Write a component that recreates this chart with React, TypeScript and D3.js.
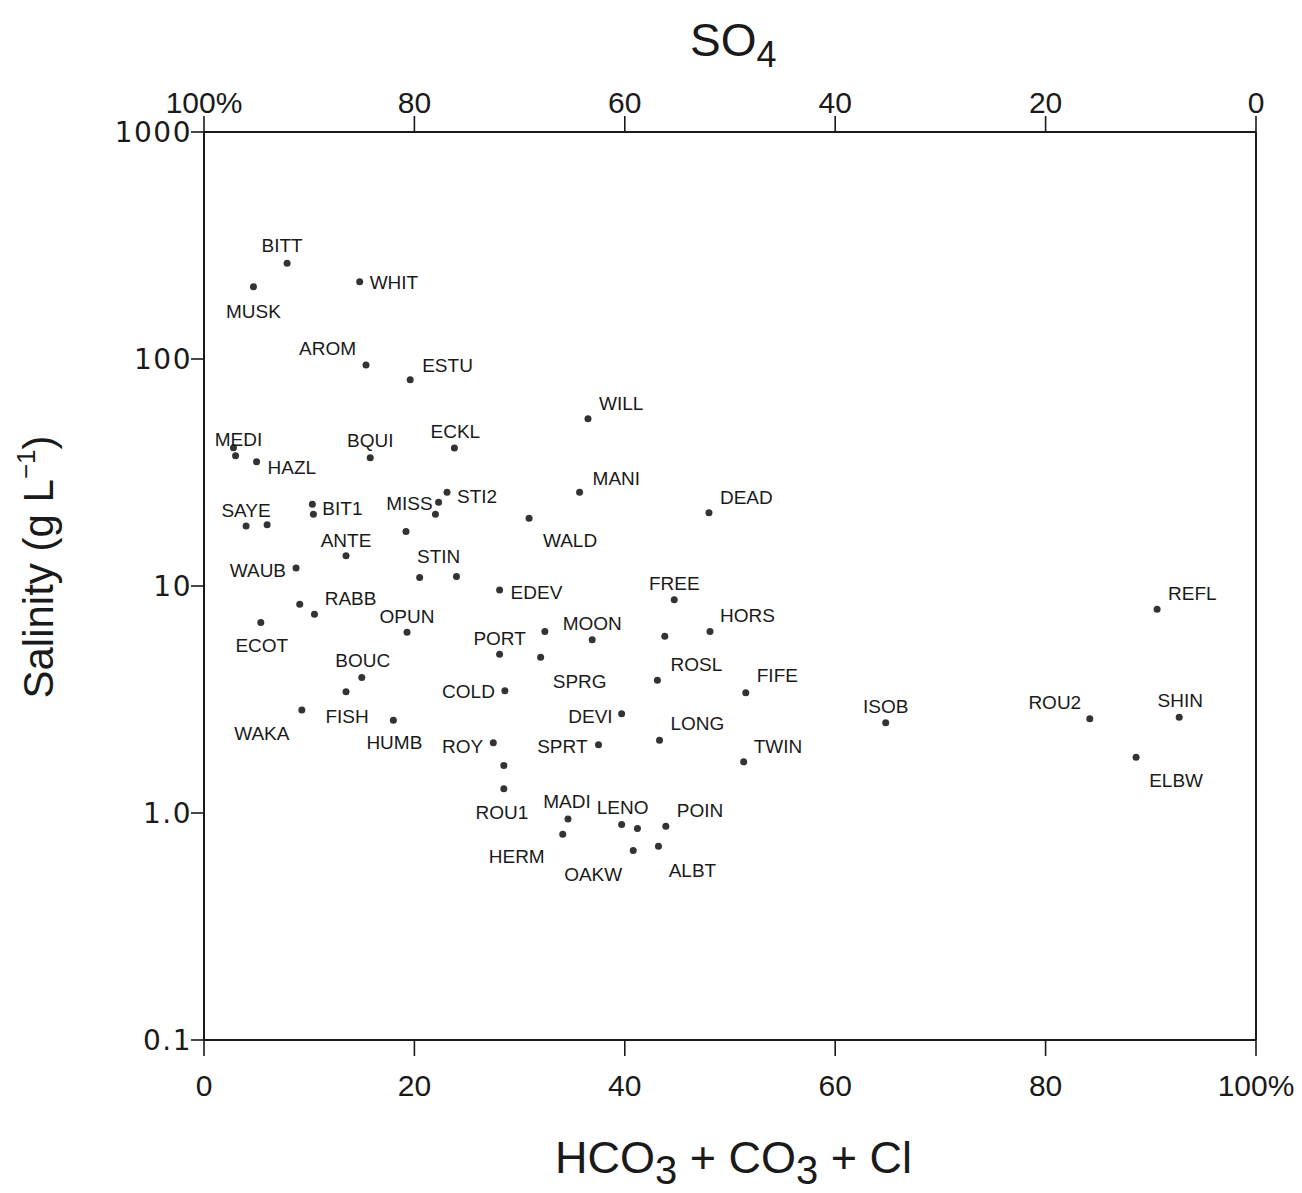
import React from "react";
import * as d3 from "d3";

// ---- data ----
const lakes = [
  "BITT","MUSK","WHIT","AROM","ESTU","MEDI","","HAZL","BQUI","ECKL",
  "WILL","MANI","STI2","MISS","","BIT1","","SAYE","","DEAD",
  "WALD","","ANTE","WAUB","STIN","","EDEV","FREE","RABB","",
  "REFL","ECOT","OPUN","HORS","","MOON","","PORT","SPRG","BOUC",
  "ROSL","FISH","COLD","FIFE","WAKA","DEVI","HUMB","ISOB","ROU2","SHIN",
  "ROY","LONG","SPRT","TWIN","ELBW","","ROU1","MADI","LENO","",
  "POIN","HERM","OAKW","ALBT",
];
// % HCO3 + CO3 + Cl
const anionPct = [
  7.9,4.7,14.8,15.4,19.6,2.8,3.0,5.0,15.8,23.8,
  36.5,35.7,23.1,22.3,22.0,10.3,10.4,4.0,6.0,48.0,
  30.9,19.2,13.5,8.75,20.5,24.0,28.1,44.7,9.1,10.5,
  90.6,5.4,19.3,48.1,43.8,36.9,32.4,28.1,32.0,15.0,
  43.1,13.5,28.6,51.5,9.3,39.7,18.0,64.8,84.2,92.7,
  27.5,43.3,37.5,51.3,88.6,28.5,28.5,34.6,39.7,41.2,
  43.9,34.1,40.8,43.2,
];
// salinity g/L
const salinity = [
  264,208,219,94,81,40.6,37.5,35.3,36.7,40.5,
  54.5,25.9,25.9,23.4,20.7,22.9,20.7,18.4,18.6,21.0,
  19.9,17.4,13.6,12.0,10.9,11.0,9.6,8.7,8.3,7.5,
  7.9,6.9,6.25,6.3,6.0,5.8,6.3,5.0,4.85,3.95,
  3.84,3.42,3.46,3.39,2.84,2.74,2.56,2.50,2.60,2.64,
  2.04,2.09,2.0,1.68,1.76,1.62,1.28,0.94,0.89,0.855,
  0.874,0.807,0.684,0.713,
];
const bottomTicks = [0, 20, 40, 60, 80, 100];
const bottomTickLabels = ["0", "20", "40", "60", "80", "100%"];
const topTicks = [100, 80, 60, 40, 20, 0];
const topTickLabels = ["100%", "80", "60", "40", "20", "0"];
const yTicks = [1000, 100, 10, 1, 0.1];
const yTickLabels = ["1000", "100", "10", "1.0", "0.1"];

// label placement (pixel offset from dot, anchor)
const labelPlacement: Record<string, [number, number, string]> = {
  BITT: [-5, -18, "middle"], MUSK: [0, 24, "middle"], WHIT: [10, 0, "start"],
  AROM: [-10, -17, "end"], ESTU: [12, -15, "start"], MEDI: [5, -9, "middle"],
  HAZL: [11, 6, "start"], BQUI: [0, -18, "middle"], ECKL: [1, -17, "middle"],
  WILL: [11, -16, "start"], MANI: [13, -14, "start"], STI2: [10, 4, "start"],
  MISS: [-6, 1, "end"], BIT1: [10, 4, "start"], SAYE: [0, -16, "middle"],
  DEAD: [11, -16, "start"], WALD: [41, 22, "middle"], ANTE: [0, -16, "middle"],
  WAUB: [-10, 2, "end"], STIN: [19, -21, "middle"], EDEV: [11, 2, "start"],
  FREE: [0, -17, "middle"], RABB: [25, -6, "start"], REFL: [11, -16, "start"],
  ECOT: [1, 23, "middle"], OPUN: [0, -16, "middle"], HORS: [10, -16, "start"],
  MOON: [0, -17, "middle"], PORT: [0, -16, "middle"], SPRG: [39, 24, "middle"],
  BOUC: [1, -17, "middle"], ROSL: [39, -16, "middle"], FISH: [1, 24, "middle"],
  COLD: [-10, 1, "end"], FIFE: [11, -17, "start"], WAKA: [-40, 23, "middle"],
  DEVI: [-9, 3, "end"], HUMB: [1, 22, "middle"], ISOB: [0, -17, "middle"],
  ROU2: [-35, -17, "middle"], SHIN: [1, -17, "middle"], ROY: [-10, 3, "end"],
  LONG: [11, -17, "start"], SPRT: [-11, 1, "end"], TWIN: [10, -16, "start"],
  ELBW: [40, 23, "middle"], ROU1: [-2, 23, "middle"], MADI: [-1, -18, "middle"],
  LENO: [1, -17, "middle"], POIN: [11, -16, "start"], HERM: [-46, 22, "middle"],
  OAKW: [-40, 24, "middle"], ALBT: [34, 24, "middle"],
};

const W = 1302, H = 1193;
const L = 204, R = 1256, T = 132, B = 1040;
const font = "'Liberation Sans', Arial, Helvetica, sans-serif";

export default function App() {
  const x = d3.scaleLinear().domain([0, 100]).range([L, R]);
  const xTop = d3.scaleLinear().domain([100, 0]).range([L, R]);
  const y = d3.scaleLog().domain([0.1, 1000]).range([B, T]);
  const ink = "#1a1a1a";

  return (
    <svg width={W} height={H} style={{ position: "absolute", left: 0, top: 0, background: "#fff" }}
      fontFamily={font}>
      <rect x={0} y={0} width={W} height={H} fill="#fff" />
      {/* frame */}
      <g stroke={ink} strokeWidth={2} fill="none">
        <line x1={L} y1={T} x2={R} y2={T} />
        <line x1={L} y1={B} x2={R} y2={B} />
        <line x1={L} y1={T} x2={L} y2={B} />
        <line x1={R} y1={T} x2={R} y2={B} />
      </g>
      {/* bottom axis */}
      {bottomTicks.map((t, i) => (
        <g key={"b" + i}>
          <line x1={x(t)} x2={x(t)} y1={B} y2={B + 16} stroke={ink} strokeWidth={1.6} />
          <text x={x(t)} y={1096} fontSize={30} textAnchor="middle" fill={ink}>{bottomTickLabels[i]}</text>
        </g>
      ))}
      {/* top axis */}
      {topTicks.map((t, i) => (
        <g key={"t" + i}>
          <line x1={xTop(t)} x2={xTop(t)} y1={T} y2={T - 16} stroke={ink} strokeWidth={1.6} />
          <text x={xTop(t)} y={113} fontSize={30} textAnchor="middle" fill={ink}>{topTickLabels[i]}</text>
        </g>
      ))}
      {/* y axis */}
      {yTicks.map((t, i) => (
        <g key={"y" + i}>
          <line x1={L - 13} x2={L} y1={y(t)} y2={y(t)} stroke={ink} strokeWidth={1.6} />
          <text x={192} y={y(t)} dy="0.36em" fontSize={28} letterSpacing={1.5} textAnchor="end"
            fontFamily="'DejaVu Sans', sans-serif" fill={ink}>{yTickLabels[i]}</text>
        </g>
      ))}
      {/* titles */}
      <text x={690} y={56} fontSize={46} fill={ink}>
        SO<tspan fontSize={36} dy={11}>4</tspan>
      </text>
      <text x={555} y={1173} fontSize={45} fill={ink}>
        HCO<tspan fontSize={40} dy={11}>3</tspan>
        <tspan dy={-11}> + CO</tspan><tspan fontSize={40} dy={11}>3</tspan>
        <tspan dy={-11}> + Cl</tspan>
      </text>
      <text transform="translate(53,567) rotate(-90)" fontSize={42} textAnchor="middle" fill={ink}>
        Salinity (g L<tspan fontSize={26} dy={-18}>−1</tspan><tspan dy={18}>)</tspan>
      </text>
      {/* points */}
      {lakes.map((name, i) => {
        const cx = x(anionPct[i]);
        const cy = y(salinity[i]);
        const p = labelPlacement[name];
        return (
          <g key={"p" + i}>
            <circle cx={cx} cy={cy} r={3.5} fill="#333" />
            {name && p ? (
              <text x={cx + p[0]} y={cy + p[1]} dy="0.36em" fontSize={19} textAnchor={p[2] as any}
                fill={ink}>{name}</text>
            ) : null}
          </g>
        );
      })}
    </svg>
  );
}
